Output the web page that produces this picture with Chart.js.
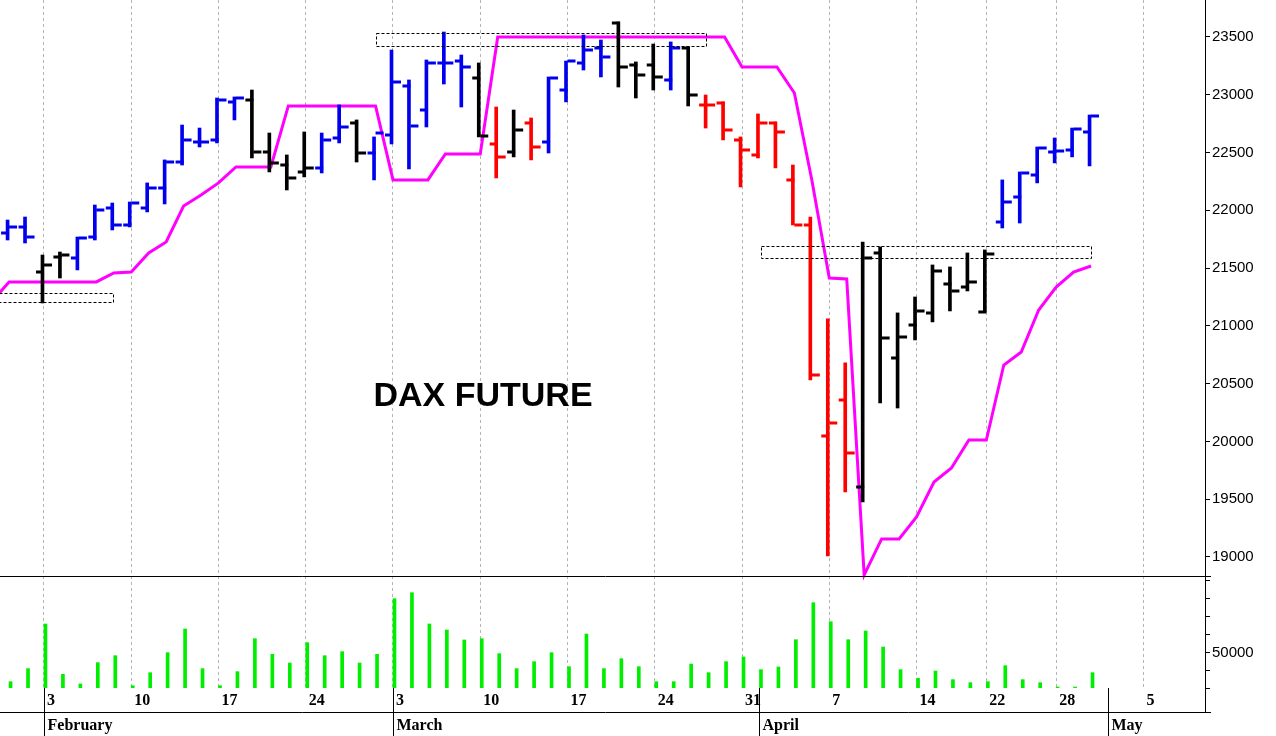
<!DOCTYPE html>
<html>
<head>
<meta charset="utf-8">
<script src="https://cdn.jsdelivr.net/npm/chart.js@4"></script>
<style>
  html, body { margin: 0; padding: 0; background: #fff; }
  #wrap { width: 1276px; height: 736px; }
</style>
</head>
<body>
<div id="wrap"><canvas id="c" width="1276" height="736"></canvas></div>
<script>
// trading days, index 0 = Jan 29 (only the stop line has a value there)
const dates = ['01-29','01-30','01-31',
  '02-03','02-04','02-05','02-06','02-07','02-10','02-11','02-12','02-13','02-14',
  '02-17','02-18','02-19','02-20','02-21','02-24','02-25','02-26','02-27','02-28',
  '03-03','03-04','03-05','03-06','03-07','03-10','03-11','03-12','03-13','03-14',
  '03-17','03-18','03-19','03-20','03-21','03-24','03-25','03-26','03-27','03-28',
  '03-31','04-01','04-02','04-03','04-04','04-07','04-08','04-09','04-10','04-11',
  '04-14','04-15','04-16','04-17','04-22','04-23','04-24','04-25','04-28','04-29','04-30'];

const open  = [null,21804,21856,21466,21596,21588,21769,22020,21873,22020,22193,22418,22591,22609,22937,22955,22505,22392,22332,22367,22626,22756,22496,22652,23076,22868,23275,23292,23145,22574,22505,22756,22591,23041,23275,23405,23621,23258,23258,23128,23405,22912,22929,22609,22479,22756,22263,21873,20047,20359,19606,21631,20722,21008,21112,21362,21336,21120,21899,22115,22306,22505,22522,22678];
const high  = [null,21916,21942,21613,21639,21769,22046,22063,22072,22237,22436,22738,22712,22972,22981,23041,22669,22479,22678,22669,22912,22782,22635,23387,23128,23301,23543,23344,23275,22894,22868,22799,23154,23292,23517,23474,23630,23284,23439,23457,23413,22998,22938,22635,22834,22764,22392,21942,21060,20679,21726,21683,21112,21250,21527,21510,21631,21657,22263,22332,22548,22626,22712,22825];
const low   = [null,21743,21717,21198,21414,21484,21743,21830,21856,21986,22055,22392,22548,22583,22782,22453,22332,22176,22289,22323,22583,22418,22263,22574,22358,22721,23093,22894,22635,22280,22462,22436,22496,22938,23214,23154,23067,22972,23041,23041,22903,22712,22609,22202,22453,22367,21873,20532,19009,19562,19476,20333,20289,20878,21034,21129,21302,21120,21847,21890,22237,22410,22462,22384];
const close = [null,21856,21769,21527,21613,21760,22003,21873,22063,22193,22418,22609,22591,22955,22972,22505,22410,22280,22367,22609,22721,22496,22669,23111,22730,23275,23275,23240,22643,22462,22695,22548,23145,23292,23387,23327,23240,23171,23154,23405,22998,22912,22695,22522,22756,22678,21873,20575,20160,19900,21588,20895,20904,21129,21475,21302,21380,21622,22072,22323,22539,22513,22704,22816];
// b = blue, k = black, r = red
const barTone = (' ' + 'bbkkbbbbbbbbbbkkkkbbkbbbbbbkrkrbbbbkkkbkrrrrrrrrrkkkkkkkkbbbbbb').split('');
const volume = [null,8800,26900,88900,19000,5600,35200,44900,3200,21300,49100,82000,26900,3200,22700,68500,46800,34700,63000,44900,50500,34700,46800,124000,132400,88900,80600,66700,68500,47700,26900,36600,49100,29600,75000,26900,40700,29600,8800,8800,33300,21300,36600,43100,25500,29200,67100,118500,92100,67100,79200,56900,25500,13400,23600,11600,7400,8800,31000,11600,7400,1400,1400,21300];
const stopLine = [21207,21380,21380,21380,21380,21380,21380,21458,21466,21631,21726,22037,22133,22237,22375,22375,22375,22903,22903,22903,22903,22903,22903,22263,22263,22263,22488,22488,22488,23500,23500,23500,23500,23500,23500,23500,23500,23500,23500,23500,23500,23500,23500,23240,23240,23240,23015,22263,21414,21406,18844,19156,19156,19346,19649,19770,20012,20012,20661,20774,21137,21336,21466,21518];

// dotted boxes: [fromIndex, toIndex, lowValue, highValue]
const boxes = [[0.4, 6.95, 21207, 21285], [22.03, 40.94, 23422, 23535], [44.1, 62.99, 21587, 21691]];

// axis labels
const dayTickIdx = [3, 8, 13, 18, 23, 28, 33, 38, 43, 48, 53, 57, 61, 66];
const dayTickText = ['3', '10', '17', '24', '3', '10', '17', '24', '31', '7', '14', '22', '28', '5'];
const monthIdx = [3, 23, 44, 64];
const monthText = ['February', 'March', 'April', 'May'];
const priceTicks = [19000, 19500, 20000, 20500, 21000, 21500, 22000, 22500, 23000, 23500];
const volTicks = [0, 25000, 50000, 75000, 100000, 125000, 150000];

const TONE = { b: '#0000ee', k: '#000000', r: '#ff0000' };
const idx = dates.map((d, i) => i);

const ohlcTicks = {
  id: 'ohlcTicks',
  afterDatasetsDraw(chart) {
    const { ctx, scales: { x, y, yv }, chartArea: a } = chart;
    ctx.save();
    ctx.lineWidth = 3;
    idx.forEach(i => {
      if (open[i] == null) return;
      const px = x.getPixelForValue(i);
      ctx.strokeStyle = TONE[barTone[i]];
      ctx.beginPath();
      ctx.moveTo(px - 8, y.getPixelForValue(open[i]));
      ctx.lineTo(px, y.getPixelForValue(open[i]));
      ctx.moveTo(px, y.getPixelForValue(close[i]));
      ctx.lineTo(px + 8, y.getPixelForValue(close[i]));
      ctx.stroke();
    });
    // boxes
    ctx.lineWidth = 1;
    ctx.strokeStyle = '#000';
    ctx.setLineDash([3, 2]);
    boxes.forEach(b => {
      const x0 = x.getPixelForValue(b[0]), x1 = x.getPixelForValue(b[1]);
      const y0 = y.getPixelForValue(b[3]), y1 = y.getPixelForValue(b[2]);
      ctx.strokeRect(Math.round(x0) + 0.5, Math.round(y0) + 0.5, Math.round(x1 - x0), Math.round(y1 - y0));
    });
    ctx.setLineDash([]);
    // panel separators
    const sepY = Math.round(y.getPixelForValue(18836)) + 0.5;
    ctx.beginPath();
    ctx.moveTo(a.left, sepY); ctx.lineTo(a.right + 6, sepY);
    ctx.moveTo(a.left, a.bottom + 24.5); ctx.lineTo(a.right + 6, a.bottom + 24.5);
    ctx.moveTo(a.right + 0.5, a.top); ctx.lineTo(a.right + 0.5, a.bottom + 24);
    ctx.stroke();
    // month separators and names
    ctx.font = 'bold 16px "Liberation Serif"';
    ctx.fillStyle = '#000';
    ctx.textBaseline = 'middle';
    monthIdx.forEach((m, k) => {
      const px = Math.round(x.getPixelForValue(m)) + 0.5;
      ctx.beginPath();
      ctx.moveTo(px, a.bottom); ctx.lineTo(px, a.bottom + 48);
      ctx.stroke();
      ctx.fillText(monthText[k], px + 3, a.bottom + 38);
    });
    // price axis labels
    ctx.font = '15px "Liberation Sans"';
    priceTicks.forEach(v => {
      ctx.fillText(String(v), a.right + 7, y.getPixelForValue(v));
    });
    // volume axis
    volTicks.forEach(v => {
      const py = Math.round(yv.getPixelForValue(v)) + 0.5;
      ctx.beginPath();
      ctx.moveTo(a.right, py); ctx.lineTo(a.right + 5, py);
      ctx.stroke();
      if (v === 50000) ctx.fillText('50000', a.right + 7, py);
    });
    // title
    ctx.font = 'bold 34px "Liberation Sans"';
    ctx.textAlign = 'center';
    ctx.fillText('DAX FUTURE', x.getPixelForValue(28.16), y.getPixelForValue(20385));
    ctx.restore();
  }
};

new Chart(document.getElementById('c'), {
  data: {
    datasets: [
      {
        type: 'line',
        data: idx.map(i => ({ x: i, y: stopLine[i] })),
        borderColor: '#ff00ff',
        borderWidth: 3,
        pointRadius: 0,
        tension: 0,
        yAxisID: 'y',
        order: 2
      },
      {
        type: 'bar',
        data: idx.filter(i => high[i] != null).map(i => ({ x: i, y: [low[i], high[i]] })),
        backgroundColor: idx.filter(i => high[i] != null).map(i => TONE[barTone[i]]),
        barThickness: 3,
        yAxisID: 'y',
        order: 1
      },
      {
        type: 'bar',
        data: idx.filter(i => volume[i] != null).map(i => ({ x: i, y: volume[i] })),
        backgroundColor: '#00ee00',
        barThickness: 3,
        yAxisID: 'yv',
        order: 3
      }
    ]
  },
  options: {
    responsive: false,
    animation: false,
    events: [],
    layout: { padding: 0 },
    plugins: { legend: { display: false }, tooltip: { enabled: false } },
    scales: {
      x: {
        type: 'linear',
        offset: false,
        min: 0.48,
        max: 69.53,
        afterBuildTicks: s => { s.ticks = dayTickIdx.map(v => ({ value: v })); },
        afterFit: s => { s.height = 48; },
        ticks: {
          callback: (v, k) => dayTickText[k],
          align: 'start',
          labelOffset: 3,
          padding: 3,
          maxRotation: 0,
          autoSkip: false,
          color: '#000',
          font: { family: '"Liberation Serif"', size: 16, weight: 'bold' }
        },
        grid: { color: '#b4b4b4', drawTicks: false, lineWidth: 1, offset: false },
        border: { display: false, dash: [3, 3] }
      },
      y: {
        position: 'right',
        min: 17866,
        max: 23820,
        afterBuildTicks: s => { s.ticks = priceTicks.map(v => ({ value: v })); },
        afterFit: s => { s.width = 71; },
        ticks: { display: false },
        grid: { drawOnChartArea: false, tickLength: 5, color: '#000' },
        border: { display: false }
      },
      yv: {
        display: false,
        min: 0,
        max: 955600
      }
    }
  },
  plugins: [ohlcTicks]
});
</script>
</body>
</html>
